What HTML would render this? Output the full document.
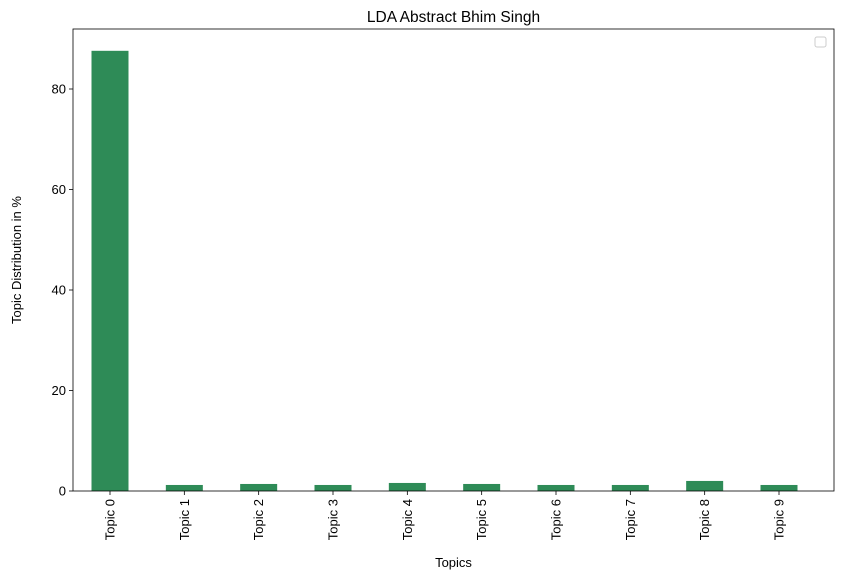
<!DOCTYPE html>
<html><head><meta charset="utf-8"><style>
body{margin:0;background:#fff;font-family:"Liberation Sans","DejaVu Sans",sans-serif;}
svg text{font-family:"Liberation Sans","DejaVu Sans",sans-serif;}
</style></head><body>
<svg id="chart" width="842" height="579"></svg>
<script>
const categories=["Topic 0","Topic 1","Topic 2","Topic 3","Topic 4","Topic 5","Topic 6","Topic 7","Topic 8","Topic 9"];
const values=[87.6,1.2,1.4,1.2,1.6,1.4,1.2,1.2,2.0,1.2];
const yTicks=[0,20,40,60,80];
const NS="http://www.w3.org/2000/svg";
const svg=document.getElementById('chart');
const L=73,R=834,T=29,B=491;
const x=i=>110+i*(779-110)/9;
const y=v=>B-v*(B-89)/80;
const bw=37;
function mk(tag,attrs,txt){const e=document.createElementNS(NS,tag);for(const k in attrs)e.setAttribute(k,attrs[k]);if(txt!=null)e.textContent=txt;svg.appendChild(e);return e;}
categories.forEach((c,i)=>{
  const r=mk('rect',{x:x(i)-bw/2,y:y(values[i]),width:bw,height:B-y(values[i]),fill:'#2e8b57'});
  
  
  const t=mk('line',{x1:x(i),x2:x(i),y1:B,y2:B+4,stroke:'#000','stroke-width':0.8});
  
  
  const lb=mk('text',{x:0,y:0,'font-size':13,'text-anchor':'end',transform:`translate(${x(i)+4.5},${B+8}) rotate(-90)`},c);
  
  
});
yTicks.forEach(v=>{
  const t=mk('line',{x1:L-4,x2:L,y1:y(v),y2:y(v),stroke:'#000','stroke-width':0.8});
  
  
  const lb=mk('text',{x:L-7,y:y(v)+4.5,'font-size':13,'text-anchor':'end'},String(v));
  
  
});
const f=mk('rect',{x:L,y:T,width:R-L,height:B-T,fill:'none',stroke:'#000','stroke-width':0.8});


const lg=mk('rect',{x:815,y:37,width:11,height:10,rx:2,fill:'#fff',stroke:'#ccc','stroke-width':1});


const ti=mk('text',{x:(L+R)/2,y:22,'font-size':15.5,'text-anchor':'middle'},'LDA Abstract Bhim Singh');


const xt=mk('text',{x:(L+R)/2,y:567,'font-size':13,'text-anchor':'middle'},'Topics');


const yt=mk('text',{x:0,y:0,'font-size':13,'text-anchor':'middle',transform:`translate(21,${(T+B)/2}) rotate(-90)`},'Topic Distribution in %');


</script>
</body></html>
